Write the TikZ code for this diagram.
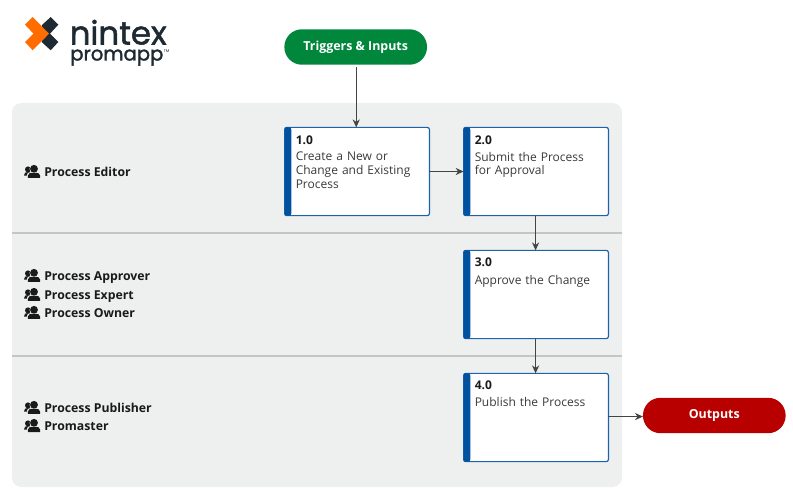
\documentclass[tikz,border=0pt]{standalone}
\usepackage{fontspec}
\setmainfont{Open Sans}
\newfontfamily\logofont[FakeBold=1.6]{Poppins}
\newfontfamily\logosmall{Poppins}
\usetikzlibrary{arrows.meta}
\definecolor{panelgrey}{HTML}{EEF0F0}
\definecolor{rulegrey}{HTML}{C4C6C6}
\definecolor{stepblue}{HTML}{1B63AB}
\definecolor{barblue}{HTML}{00529F}
\definecolor{linkgrey}{HTML}{444444}
\definecolor{startgreen}{HTML}{00873C}
\definecolor{endred}{HTML}{B80000}
\definecolor{logodark}{HTML}{1E2A33}
\definecolor{logoorange}{HTML}{FF6D00}
\definecolor{inkdark}{HTML}{1A1A1A}
\definecolor{textgrey}{HTML}{3A3A3A}
\tikzset{
  x=0.75pt, y=-0.75pt,
  stepbox/.style={draw=stepblue, line width=0.9pt, fill=white, rounded corners=1.6pt,
    minimum width=108.6pt, minimum height=66.2pt, inner sep=0pt, outer sep=0pt},
  stepbar/.style={fill=barblue, rounded corners=1.6pt},
  stepnum/.style={anchor=north west, inner sep=0pt, text=inkdark, text height=7pt, text depth=2pt,
    font=\fontsize{9pt}{10.2pt}\selectfont\bfseries},
  steptext/.style={anchor=north west, inner sep=0pt, align=left, text width=100pt,
    font=\fontsize{9pt}{10.2pt}\selectfont, text=textgrey},
  pill/.style={rounded corners=13.2pt, minimum width=107pt, minimum height=26.6pt,
    inner sep=0pt, outer sep=0pt, text=white, font=\fontsize{9.3pt}{11pt}\selectfont\bfseries},
  rolelabel/.style={anchor=west, inner sep=0pt, text=inkdark, text height=7pt, text depth=2pt,
    font=\fontsize{9.2pt}{11pt}\selectfont\bfseries},
  link/.style={draw=linkgrey, line width=0.8pt, -{Stealth[length=6pt,width=5.4pt]}},
}
% Two-person role icon, placed by its centre
\newcommand{\peopleicon}[1]{%
  \begin{scope}[shift={(#1)}]
    \fill[inkdark] (-4,-2.6) circle (3);
    \fill[inkdark] (-8,3.6) .. controls (-8,0.6) and (-6.5,0) .. (-4,0)
       -- (-1,0) -- (-1,3.6) -- cycle;
    \fill[panelgrey] (2,-3.2) circle (4.5);
    \fill[panelgrey] (-5,6.4) -- (-5,3.4) .. controls (-5,0) and (-2,0) .. (2,0)
       .. controls (6,0) and (9,0) .. (9,3.4) -- (9,6.4) -- cycle;
    \fill[inkdark] (2,-3.2) circle (3.9);
    \fill[inkdark] (-4.2,6) -- (-4.2,3.6) .. controls (-4.2,1) and (-1.5,0.8) .. (2,0.8)
       .. controls (5.5,0.8) and (8.2,1) .. (8.2,3.6) -- (8.2,6) -- cycle;
  \end{scope}}
\begin{document}
\begin{tikzpicture}
\useasboundingbox (0,0) rectangle (793,495);

% Swimlane panel and lane separators
\fill[panelgrey, rounded corners=7pt] (12,103) rectangle (622,487);
\draw[rulegrey, line width=1pt] (12,233) -- (622,233);
\draw[rulegrey, line width=1pt] (12,356) -- (622,356);

% Logo mark: dark arms behind the orange chevron
\fill[logodark] (41.7,25.3) -- (50.7,17) -- (58.3,24.7) -- (50,33.7) -- (58.3,42) -- (50.7,50.3) -- (41.7,42) -- (44,33.7) -- cycle;
\fill[logoorange] (25,24.7) -- (32.7,17) -- (49,33.7) -- (32.7,50.3) -- (25,42) -- (33.5,33.7) -- cycle;
\node[anchor=base west, inner sep=0pt, text=logodark] (logoa) at (69.5,44.5)
  {\logofont\fontsize{24.3pt}{26pt}\selectfont nintex};
\node[anchor=base west, inner sep=0pt, text=logodark] (logob) at (70,60.5)
  {\logofont\fontsize{14.7pt}{18pt}\selectfont promapp};
\node[anchor=base west, inner sep=0pt, text=logodark] (logoc) at (163.5,52.5)
  {\logosmall\fontsize{3pt}{3pt}\selectfont TM};

% Terminators
\node[pill, fill=startgreen] (start) at (355.7,47) {Triggers \& Inputs};
\node[pill, fill=endred] (finish) at (714.3,415.5) {Outputs\hspace{2pt}};

% Process steps
\node[stepbox] (s1) at (357,171.5) {};
\node[stepbox] (s2) at (536,171.5) {};
\node[stepbox] (s3) at (536,294.5) {};
\node[stepbox] (s4) at (536,417.5) {};
\foreach \b in {s1,s2,s3,s4} {
  \fill[stepbar] (\b.north west) rectangle ([xshift=5pt]\b.south west);
}
\node[stepnum] (n1) at (295.5,135) {1.0};
\node[stepnum] (n2) at (474.5,135) {2.0};
\node[stepnum] (n3) at (474.5,257) {3.0};
\node[stepnum] (n4) at (474.5,380) {4.0};
\node[steptext] (t1) at (295.5,152) {Create a New or\\Change and Existing\\Process};
\node[steptext] (t2) at (474.5,152) {Submit the Process\\for Approval};
\node[steptext] (t3) at (474.5,275) {Approve the Change};
\node[steptext] (t4) at (474.5,397.5) {Publish the Process};

% Connectors
\draw[link, shorten <=2pt] ([xshift=0.4pt]start.south) -- ([xshift=0.4pt]start.south |- s1.north);
\draw[link] (s1.east) -- (s2.west);
\draw[link] ([xshift=-0.3pt]s2.south) -- ([xshift=-0.3pt]s3.north);
\draw[link] ([xshift=-0.3pt]s3.south) -- ([xshift=-0.3pt]s4.north);
\draw[link] ([yshift=0.7pt]s4.east) -- ([yshift=0.7pt]s4.east -| finish.west);

% Role labels
\foreach \yy/\nm/\lbl in {172/ra/Process Editor,276/rb/Process Approver,295/rc/Process Expert,313/rd/Process Owner,408/re/Process Publisher,426/rf/Promaster} {
  \peopleicon{32,\yy}
  \node[rolelabel] (\nm) at (44,\yy+1) {\lbl};
}
\end{tikzpicture}
\end{document}
